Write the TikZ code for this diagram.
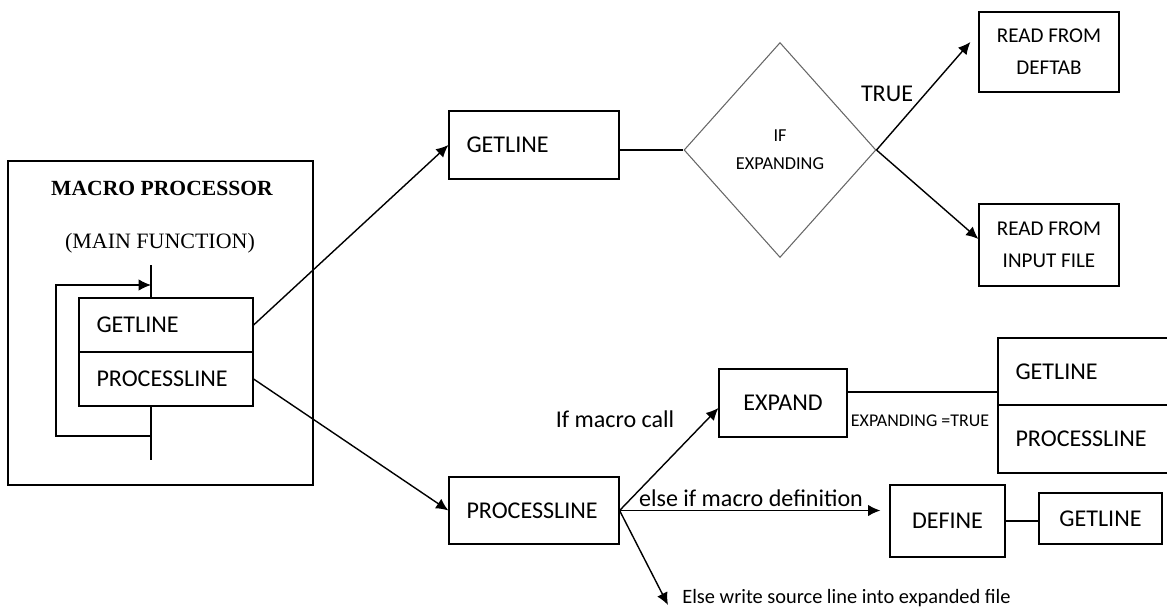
\documentclass[tikz,border=0pt]{standalone}
\usepackage{fontspec}
\setmainfont{Carlito}
\newfontfamily\timesfont{Liberation Serif}
\usetikzlibrary{positioning,arrows.meta,shapes.geometric,calc}
\tikzset{%
  arrow/.style = { ->, >={Latex[length=7pt,width=6.5pt]}, line width = 0.8pt, draw = black },
  wire/.style  = { line width = 0.7pt, draw = black },
  tbox/.style  = { draw = black, line width = 0.7pt, inner sep = 0pt, align = center,
                   font = \fontsize{13.7}{16}\selectfont },
  lbox/.style  = { tbox, align = left, inner xsep = 0.35cm },
  rbox/.style  = { tbox, font = \fontsize{12}{18.1}\selectfont },
  cond/.style  = { diamond, draw = black!60, line width = 0.6pt, inner sep = 0pt, align = center,
                   font = \fontsize{10.4}{15.9}\selectfont },
  note/.style  = { font = \fontsize{13.7}{16}\selectfont, inner sep = 0pt }
}

\begin{document}
\begin{tikzpicture}[x=0.02cm, y=-0.02cm]
  \useasboundingbox (0,0) rectangle (1167,609);
  \node(m)[tbox, minimum width = 6.1cm, minimum height = 6.48cm] at (160.5,323) {};
  \node(t)[font = \timesfont\bfseries\fontsize{12.3}{15}\selectfont] at (162,188) {MACRO PROCESSOR};
  \node(f)[font = \timesfont\fontsize{12.5}{15}\selectfont] at (160,243) {(MAIN FUNCTION)};
  \node(g)[lbox, text width = 2.78cm, minimum height = 1.08cm] at (166,325) {GETLINE};
  \node(p)[lbox, text width = 2.78cm, minimum height = 1.08cm] at (166,379) {PROCESSLINE};
  \node(gl)[lbox, text width = 2.7cm, minimum height = 1.36cm] at (534,145) {GETLINE};
  \node(c)[cond, minimum width = 3.84cm, minimum height = 4.3cm] at (780,150) {IF\\EXPANDING};
  \node(rd)[rbox, minimum width = 2.8cm, minimum height = 1.6cm] at (1049,52) {READ FROM\\DEFTAB};
  \node(ri)[rbox, minimum width = 2.8cm, minimum height = 1.64cm] at (1049,245) {READ FROM\\INPUT FILE};
  \node(pl)[lbox, text width = 2.7cm, minimum height = 1.34cm] at (534,510.5) {PROCESSLINE};
  \node(e)[tbox, minimum width = 2.56cm, minimum height = 1.36cm] at (783,403) {EXPAND};
  \node(eg)[lbox, text width = 2.94cm, minimum height = 1.34cm] at (1089,371.5) {GETLINE};
  \node(ep)[lbox, text width = 2.94cm, minimum height = 1.36cm] at (1089,439) {PROCESSLINE};
  \node(d)[tbox, minimum width = 2.3cm, minimum height = 1.44cm] at (947.5,521) {DEFINE};
  \node(dg)[tbox, minimum width = 2.46cm, minimum height = 1.02cm] at (1100.5,518.5) {GETLINE};
  \node(w)[anchor = west, font = \fontsize{11.6}{14}\selectfont, inner sep = 0pt] at (682,598) {Else write source line into expanded file};
  \node(tr)[note] at (887,94) {TRUE};
  \node(mc)[note] at (615,419) {If macro call};
  \node(md)[note] at (751,498) {else if macro definition};
  \node(et)[note, font = \fontsize{10.2}{12}\selectfont] at (920,421) {EXPANDING =TRUE};
  \coordinate(a1) at (151,265);
  \coordinate(a2) at (151,460);
  \coordinate(l1) at (151,436);
  \coordinate(l2) at (151,285);
  \coordinate(wa) at (668,605);
  \draw[wire] (a1) -- (a1 |- g.north);
  \draw[wire] (p.south -| a2) -- (a2);
  \draw[arrow] (l1) -- ++(-95,0) |- (l2);
  \draw[arrow] (g.east) -- (gl.west);
  \draw[arrow] (p.east) -- (pl.west);
  \draw[wire] (c.west -| gl.east) -- (c.west);
  \draw[arrow] (c.east) -- ($(rd.west)+(-8,-10)$);
  \draw[arrow] (c.east) -- ($(ri.west)+(0,-6)$);
  \draw[arrow] (pl.east) -- ($(e.west)+(0,5)$);
  \draw[arrow] (pl.east) -- ($(pl.east -| d.west)+(-9,0)$);
  \draw[arrow] (pl.east) -- (wa);
  \draw[wire] ($(e.east)+(0,-11)$) -- ($(e.east -| eg.west)+(0,-11)$);
  \draw[wire] (d.east) -- (d.east -| dg.west);
\end{tikzpicture}
\end{document}
